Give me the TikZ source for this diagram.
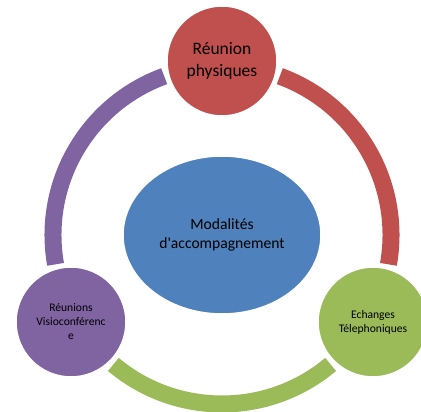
\documentclass[tikz,border=0pt]{standalone}
\usepackage{fontspec}
\setmainfont{Carlito}
\usepackage{tikz}
\usetikzlibrary{shapes.geometric, positioning}

\definecolor{rouge}{HTML}{C0504D}
\definecolor{bleu}{HTML}{4F81BD}
\definecolor{vert}{HTML}{9BBB59}
\definecolor{violet}{HTML}{8064A2}

\begin{document}
\begin{tikzpicture}[x=1pt, y=1pt, every node/.style={align=center, text=black}]
\tikzstyle{etape} = [circle, draw=white, line width=1.5pt, minimum size=110pt, inner sep=0pt, font=\fontsize{11.6}{14}\selectfont]
\tikzstyle{centre} = [ellipse, draw=white, line width=1.5pt, fill=bleu, minimum width=198pt, minimum height=158pt, inner sep=0pt, font=\fontsize{15.6}{18.5}\selectfont]
\tikzstyle{anneau} = [line width=17pt, line cap=butt]

\clip (0,0) rectangle (421,412);

\coordinate (c) at (222,177);

% arcs of the cycle
\draw[anneau, rouge] ([shift={(70:169pt)}]c) arc (70:-10:169pt);
\draw[anneau, vert] ([shift={(-50:169pt)}]c) arc (-50:-130:169pt);
\draw[anneau, violet] ([shift={(190:169pt)}]c) arc (190:110:169pt);

\node[centre] (modalites) at (c) {Modalités\\d\textquotesingle accompagnement};

\node[etape, fill=rouge, font=\fontsize{17.5}{21.5}\selectfont] (physique) at (222,351) {Réunion\\physiques};
\node[etape, fill=vert] (telephone) at (373,90) {Echanges\\Télephoniques};
\node[etape, fill=violet] (visio) at (71,90) {Réunions\\Visioconférenc\\e};

\end{tikzpicture}
\end{document}
